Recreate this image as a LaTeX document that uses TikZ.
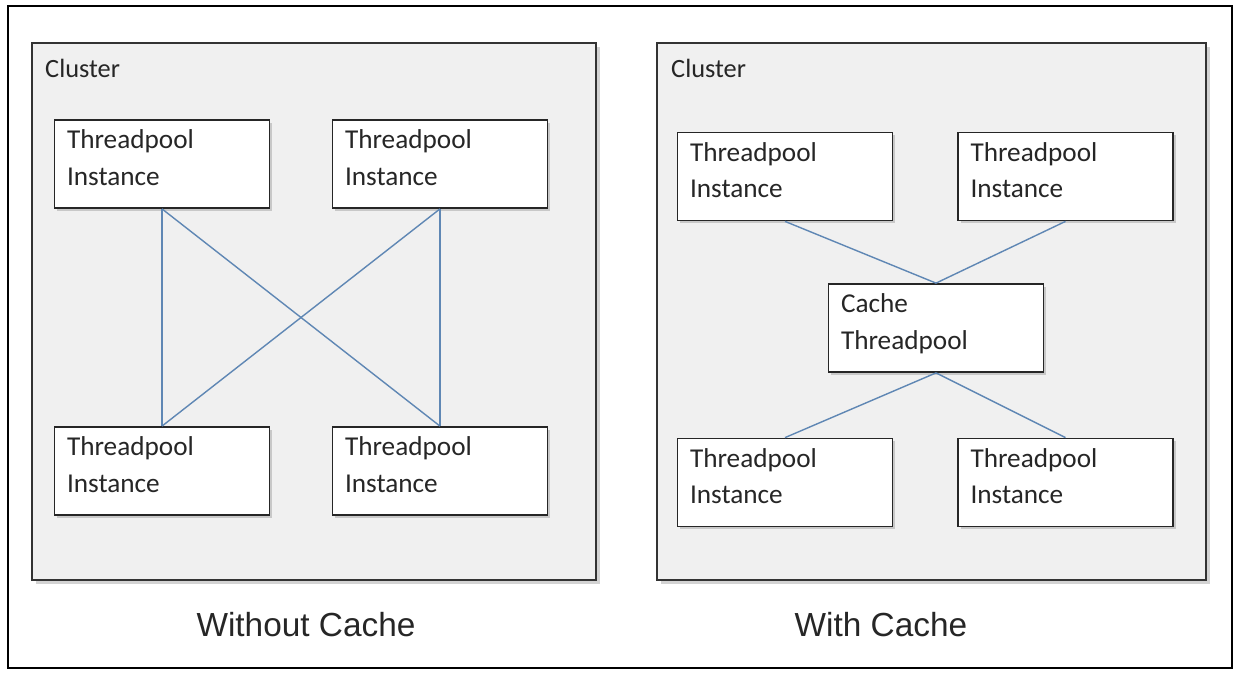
\documentclass[tikz,border=0pt]{standalone}
\usepackage{fontspec}
\setmainfont{Carlito}
\newfontfamily\capfont{Liberation Sans}
\usetikzlibrary{shadows}
\definecolor{linkblue}{RGB}{95,135,180}
\definecolor{clustergray}{RGB}{240,240,240}
\newcommand{\pooltext}[1]{\parbox[t][1.36cm][t]{3.8cm}{\raggedright #1}}
\tikzset{
  cluster/.style={draw=black!80, line width=1pt, fill=clustergray,
    drop shadow={opacity=0.35, shadow xshift=2pt, shadow yshift=-2pt}},
  poolbox/.style={draw=black!85, line width=1pt, fill=white,
    drop shadow={opacity=0.35, shadow xshift=1.5pt, shadow yshift=-1.5pt},
    inner xsep=0.25cm, inner ysep=0.2cm,
    font=\fontsize{15.5}{20.8}\selectfont, text=black!85},
  link/.style={linkblue, line width=0.8pt}
}
\begin{document}
\begin{tikzpicture}
    \useasboundingbox (0,0) rectangle (24.7,13.44);
    % outer frame
    \draw[line width=1.4pt] (0.16,0.08) rectangle (24.64,13.32);

    % clusters
    \draw[cluster] (0.64,1.84) rectangle (11.92,12.58);
    \draw[cluster] (13.14,1.84) rectangle (24.12,12.58);
    \node[anchor=west, font=\fontsize{15}{18}\selectfont, text=black!85] (lab1) at (0.78,12.08) {Cluster};
    \node[anchor=west, font=\fontsize{15}{18}\selectfont, text=black!85] (lab2) at (13.3,12.08) {Cluster};

    % without cache
    \node[poolbox] (A1) at (3.24,10.16) {\pooltext{Threadpool\\Instance}};
    \node[poolbox] (A2) at (8.8,10.16) {\pooltext{Threadpool\\Instance}};
    \node[poolbox] (A3) at (3.24,4.02) {\pooltext{Threadpool\\Instance}};
    \node[poolbox] (A4) at (8.8,4.02) {\pooltext{Threadpool\\Instance}};

    \draw[link] (A1.south) -- (A3.north);
    \draw[link] (A1.south) -- (A4.north);
    \draw[link] (A2.south) -- (A3.north);
    \draw[link] (A2.south) -- (A4.north);

    % with cache
    \node[poolbox] (B1) at (15.7,9.91) {\pooltext{Threadpool\\Instance}};
    \node[poolbox] (B2) at (21.31,9.91) {\pooltext{Threadpool\\Instance}};
    \node[poolbox] (C) at (18.72,6.88) {\pooltext{Cache\\Threadpool}};
    \node[poolbox] (B3) at (15.7,3.79) {\pooltext{Threadpool\\Instance}};
    \node[poolbox] (B4) at (21.31,3.79) {\pooltext{Threadpool\\Instance}};

    \draw[link] (B1.south) -- (C.north);
    \draw[link] (B2.south) -- (C.north);
    \draw[link] (C.south) -- (B3.north);
    \draw[link] (C.south) -- (B4.north);

    % captions
    \node[font=\capfont\fontsize{19}{22}\selectfont, text=black!85] (cap1) at (6.12,0.94) {Without Cache};
    \node[font=\capfont\fontsize{19}{22}\selectfont, text=black!85] (cap2) at (17.62,0.94) {With Cache};
\end{tikzpicture}
\end{document}
